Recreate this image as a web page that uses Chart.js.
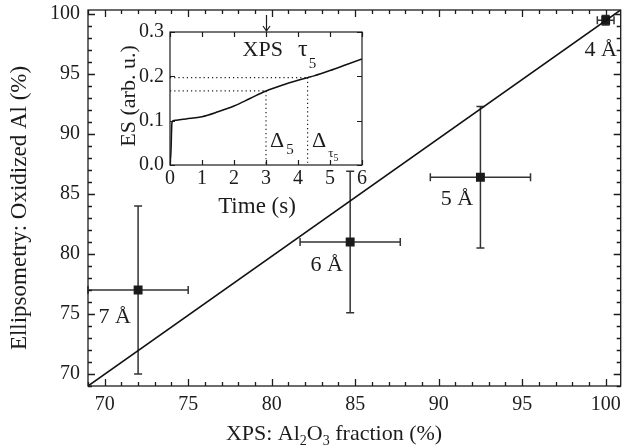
<!DOCTYPE html>
<html><head><meta charset="utf-8">
<script src="https://cdn.jsdelivr.net/npm/chart.js@4.4.1/dist/chart.umd.min.js"></script>
<style>
html,body{margin:0;padding:0;background:#fff;}
#wrap{position:relative;width:627px;height:445px;overflow:hidden;}
#main{position:absolute;left:0;top:0;}
#inset{position:absolute;left:100px;top:0;}
</style></head><body>
<div id="wrap">
<canvas id="main" width="627" height="445"></canvas>
<canvas id="inset" width="280" height="225"></canvas>
</div>
<script>
// ---------- main plot data ----------
const thicknessLabels = ['7 Å', '6 Å', '5 Å', '4 Å'];
const xpsFraction = [72.0, 84.7, 92.5, 100.0];
const ellipsometry = [77.0, 81.0, 86.4, 99.5];
const xpsError = [3.0, 3.0, 3.0, 0.5];
const ellipsometryError = [7.0, 5.9, 5.9, 0.4];
const labelX = [70.6, 83.3, 91.1, 99.7];
const labelY = [74.85, 79.25, 84.7, 97.1];
const guideX = [69, 101];
const guideY = [69, 100.45];
const xTicks = [70, 75, 80, 85, 90, 95, 100];
const yTicks = [70, 75, 80, 85, 90, 95, 100];

// ---------- inset data ----------
const timeS = [0, 0.03, 0.06, 0.1, 0.2, 0.5, 1.0, 1.5, 2.0, 2.5, 3.0, 3.5, 4.0, 4.3, 4.5, 5.0, 5.5, 6.0];
const esSignal = [0, 0.03, 0.095, 0.100, 0.101, 0.104, 0.109, 0.120, 0.133, 0.150, 0.167, 0.180, 0.191, 0.197, 0.201, 0.213, 0.226, 0.239];
const insetXTicks = [0, 1, 2, 3, 4, 5, 6];
const insetYTicks = [0.0, 0.1, 0.2, 0.3];
const markTimes = [3.0, 4.3];
const markES = [0.167, 0.197];
const xpsTime = 3.0;

const FONT = '"Liberation Serif", "Times New Roman", serif';
const INK = '#1c1c1c';

function noPad(s) { s.paddingTop = 0; s.paddingBottom = 0; s.paddingLeft = 0; s.paddingRight = 0; }

function drawFrameTicks(chart, o) {
  const {ctx, chartArea: a, scales: {x, y}} = chart;
  ctx.save();
  ctx.strokeStyle = INK;
  ctx.lineWidth = o.lw;
  ctx.beginPath();
  const xm = new Set(o.xMajor.map(v => v.toFixed(3)));
  const ym = new Set(o.yMajor.map(v => v.toFixed(3)));
  const xs = o.xMinorStep ? [] : o.xMajor.slice();
  if (o.xMinorStep) for (let v = Math.ceil(x.min / o.xMinorStep) * o.xMinorStep; v <= x.max + 1e-9; v += o.xMinorStep) xs.push(+v.toFixed(6));
  const ys = o.yMinorStep ? [] : o.yMajor.slice();
  if (o.yMinorStep) for (let v = Math.ceil(y.min / o.yMinorStep) * o.yMinorStep; v <= y.max + 1e-9; v += o.yMinorStep) ys.push(+v.toFixed(6));
  for (const v of xs) {
    const L = xm.has(v.toFixed(3)) ? o.major : o.minor;
    const p = Math.round(x.getPixelForValue(v)) + 0.5;
    ctx.moveTo(p, a.bottom); ctx.lineTo(p, a.bottom - L);
    ctx.moveTo(p, a.top); ctx.lineTo(p, a.top + L);
  }
  for (const v of ys) {
    const L = ym.has(v.toFixed(3)) ? o.major : o.minor;
    const p = Math.round(y.getPixelForValue(v)) + 0.5;
    ctx.moveTo(a.left, p); ctx.lineTo(a.left + L, p);
    ctx.moveTo(a.right, p); ctx.lineTo(a.right - L, p);
  }
  ctx.stroke();
  ctx.strokeRect(a.left, a.top, a.right - a.left, a.bottom - a.top);
  ctx.restore();
}

// ---------- main chart ----------
const mainPlugin = {
  id: 'mainDeco',
  beforeDatasetsDraw(chart) {
    const {ctx, scales: {x, y}} = chart;
    ctx.save();
    ctx.strokeStyle = '#333';
    ctx.lineWidth = 1.5;
    ctx.beginPath();
    const cap = 4;
    for (let i = 0; i < xpsFraction.length; i++) {
      const cx = x.getPixelForValue(xpsFraction[i]);
      const cy = y.getPixelForValue(ellipsometry[i]);
      const x0 = x.getPixelForValue(xpsFraction[i] - xpsError[i]);
      const x1 = x.getPixelForValue(xpsFraction[i] + xpsError[i]);
      const y0 = y.getPixelForValue(ellipsometry[i] - ellipsometryError[i]);
      const y1 = y.getPixelForValue(ellipsometry[i] + ellipsometryError[i]);
      ctx.moveTo(x0, cy); ctx.lineTo(x1, cy);
      ctx.moveTo(x0, cy - cap); ctx.lineTo(x0, cy + cap);
      ctx.moveTo(x1, cy - cap); ctx.lineTo(x1, cy + cap);
      ctx.moveTo(cx, y0); ctx.lineTo(cx, y1);
      ctx.moveTo(cx - cap, y0); ctx.lineTo(cx + cap, y0);
      ctx.moveTo(cx - cap, y1); ctx.lineTo(cx + cap, y1);
    }
    ctx.stroke();
    ctx.restore();
  },
  afterDraw(chart) {
    const {ctx, scales: {x, y}} = chart;
    drawFrameTicks(chart, {xMajor: xTicks, yMajor: yTicks, xMinorStep: 1, yMinorStep: 1, major: 7, minor: 4, lw: 1.3});
    ctx.save();
    ctx.fillStyle = INK;
    ctx.font = '22px ' + FONT;
    ctx.textAlign = 'center';
    ctx.textBaseline = 'alphabetic';
    for (let i = 0; i < thicknessLabels.length; i++) {
      ctx.fillText(thicknessLabels[i], x.getPixelForValue(labelX[i]), y.getPixelForValue(labelY[i]) + 7.5);
    }
    // x title with subscripts
    const parts = [['XPS: Al', 0], ['2', 1], ['O', 0], ['3', 1], [' fraction (%)', 0]];
    const wOf = p => { ctx.font = (p[1] ? '14px ' : '22px ') + FONT; return ctx.measureText(p[0]).width; };
    const total = parts.reduce((s, p) => s + wOf(p), 0);
    let px = 334 - total / 2;
    ctx.textAlign = 'left';
    for (const p of parts) {
      const w = wOf(p);
      ctx.fillText(p[0], px, p[1] ? 445 : 440);
      px += w;
    }
    // y title
    ctx.save();
    ctx.translate(26, 208);
    ctx.rotate(-Math.PI / 2);
    ctx.font = '23px ' + FONT;
    ctx.textAlign = 'center';
    ctx.fillText('Ellipsometry: Oxidized Al (%)', 0, 0);
    ctx.restore();
    ctx.restore();
  }
};

new Chart(document.getElementById('main'), {
  type: 'scatter',
  data: {
    datasets: [
      {
        type: 'line',
        data: guideX.map((v, i) => ({x: v, y: guideY[i]})),
        borderColor: '#111',
        borderWidth: 1.6,
        pointRadius: 0,
        showLine: true,
        fill: false
      },
      {
        data: xpsFraction.map((v, i) => ({x: v, y: ellipsometry[i]})),
        pointStyle: 'rect',
        pointRadius: 6.3,
        backgroundColor: '#1a1a1a',
        borderColor: '#1a1a1a',
        borderWidth: 0
      }
    ]
  },
  options: {
    responsive: false,
    animation: false,
    devicePixelRatio: 1,
    layout: {padding: {top: 10, right: 3, left: 0, bottom: 0}},
    plugins: {legend: {display: false}, tooltip: {enabled: false}},
    scales: {
      x: {
        type: 'linear', min: 69, max: 100.9,
        afterBuildTicks: s => { s.ticks = xTicks.map(v => ({value: v})); },
        afterFit: s => { s.height = 59; noPad(s); },
        grid: {display: false, drawTicks: false},
        border: {display: false},
        ticks: {font: {family: FONT, size: 20}, color: INK, padding: 7, maxRotation: 0, autoSkip: false}
      },
      y: {
        type: 'linear', min: 69, max: 100.35,
        afterBuildTicks: s => { s.ticks = yTicks.map(v => ({value: v})); },
        afterFit: s => { s.width = 88; noPad(s); },
        grid: {display: false, drawTicks: false},
        border: {display: false},
        ticks: {font: {family: FONT, size: 20}, color: INK, padding: 8, autoSkip: false}
      }
    }
  },
  plugins: [mainPlugin]
});

// ---------- inset chart ----------
const insetPlugin = {
  id: 'insetDeco',
  beforeDraw(chart) {
    const {ctx, chartArea: a} = chart;
    ctx.save();
    ctx.fillStyle = '#fff';
    ctx.fillRect(a.left, a.top, a.right - a.left, a.bottom - a.top);
    ctx.restore();
  },
  beforeDatasetsDraw(chart) {
    const {ctx, chartArea: a, scales: {x, y}} = chart;
    ctx.save();
    ctx.strokeStyle = INK;
    ctx.lineWidth = 1.2;
    ctx.setLineDash([1.2, 3]);
    ctx.beginPath();
    for (let i = 0; i < markTimes.length; i++) {
      const px = x.getPixelForValue(markTimes[i]);
      const py = y.getPixelForValue(markES[i]);
      ctx.moveTo(a.left, py); ctx.lineTo(px, py);
      ctx.moveTo(px, py); ctx.lineTo(px, a.bottom);
    }
    ctx.stroke();
    ctx.restore();
  },
  afterDraw(chart) {
    const {ctx, chartArea: a, scales: {x, y}} = chart;
    drawFrameTicks(chart, {xMajor: insetXTicks, yMajor: insetYTicks, major: 5, minor: 3, lw: 1.2});
    ctx.save();
    ctx.fillStyle = INK;
    ctx.strokeStyle = INK;
    // arrow at XPS time
    const ax = Math.round(x.getPixelForValue(xpsTime)) + 0.5;
    ctx.lineWidth = 1.2;
    ctx.beginPath();
    ctx.moveTo(ax, a.top - 17); ctx.lineTo(ax, a.top - 1);
    ctx.moveTo(ax - 3.5, a.top - 6); ctx.lineTo(ax, a.top - 1); ctx.lineTo(ax + 3.5, a.top - 6);
    ctx.stroke();
    ctx.textBaseline = 'alphabetic';
    ctx.font = '22px ' + FONT;
    ctx.textAlign = 'center';
    ctx.fillText('XPS', x.getPixelForValue(2.9), y.getPixelForValue(0.2635) + 7.5);
    ctx.textAlign = 'left';
    // tau_5
    let tx = x.getPixelForValue(4.0), ty = y.getPixelForValue(0.2466);
    ctx.font = '24px ' + FONT; ctx.fillText('τ', tx, ty);
    let w = ctx.measureText('τ').width;
    ctx.font = '15px ' + FONT; ctx.fillText('5', tx + w + 1, ty + 12);
    // Delta_5
    tx = x.getPixelForValue(3.125); ty = y.getPixelForValue(0.0405);
    ctx.font = '22px ' + FONT; ctx.fillText('Δ', tx, ty);
    w = ctx.measureText('Δ').width;
    ctx.font = '15px ' + FONT; ctx.fillText('5', tx + w + 2, ty + 7);
    // Delta_tau5
    tx = x.getPixelForValue(4.44);
    ctx.font = '22px ' + FONT; ctx.fillText('Δ', tx, ty);
    w = ctx.measureText('Δ').width;
    ctx.font = '13px ' + FONT; ctx.fillText('τ', tx + w + 2, ty + 10);
    const w2 = ctx.measureText('τ').width;
    ctx.font = '10px ' + FONT; ctx.fillText('5', tx + w + 2 + w2, ty + 13.5);
    // titles
    ctx.font = '23px ' + FONT;
    ctx.textAlign = 'center';
    ctx.fillText('Time (s)', 157, 213);
    ctx.save();
    ctx.translate(35, 96);
    ctx.rotate(-Math.PI / 2);
    ctx.font = '22px ' + FONT;
    ctx.fillText('ES (arb. u.)', 0, 0);
    ctx.restore();
    ctx.restore();
  }
};

new Chart(document.getElementById('inset'), {
  type: 'line',
  data: {
    datasets: [{
      data: timeS.map((t, i) => ({x: t, y: esSignal[i]})),
      borderColor: '#111',
      borderWidth: 1.5,
      pointRadius: 0,
      cubicInterpolationMode: 'monotone',
      fill: false
    }]
  },
  options: {
    responsive: false,
    animation: false,
    devicePixelRatio: 1,
    layout: {padding: {top: 32, right: 18, left: 0, bottom: 0}},
    plugins: {legend: {display: false}, tooltip: {enabled: false}},
    scales: {
      x: {
        type: 'linear', min: 0, max: 6,
        afterBuildTicks: s => { s.ticks = insetXTicks.map(v => ({value: v})); },
        afterFit: s => { s.height = 60; noPad(s); },
        grid: {display: false, drawTicks: false},
        border: {display: false},
        ticks: {font: {family: FONT, size: 20}, color: INK, padding: 2, maxRotation: 0, autoSkip: false}
      },
      y: {
        type: 'linear', min: 0, max: 0.3,
        afterBuildTicks: s => { s.ticks = insetYTicks.map(v => ({value: v})); },
        afterFit: s => { s.width = 70; noPad(s); },
        grid: {display: false, drawTicks: false},
        border: {display: false},
        ticks: {font: {family: FONT, size: 20}, color: INK, padding: 6, autoSkip: false, callback: v => v.toFixed(1)}
      }
    }
  },
  plugins: [insetPlugin]
});
</script>
</body></html>
